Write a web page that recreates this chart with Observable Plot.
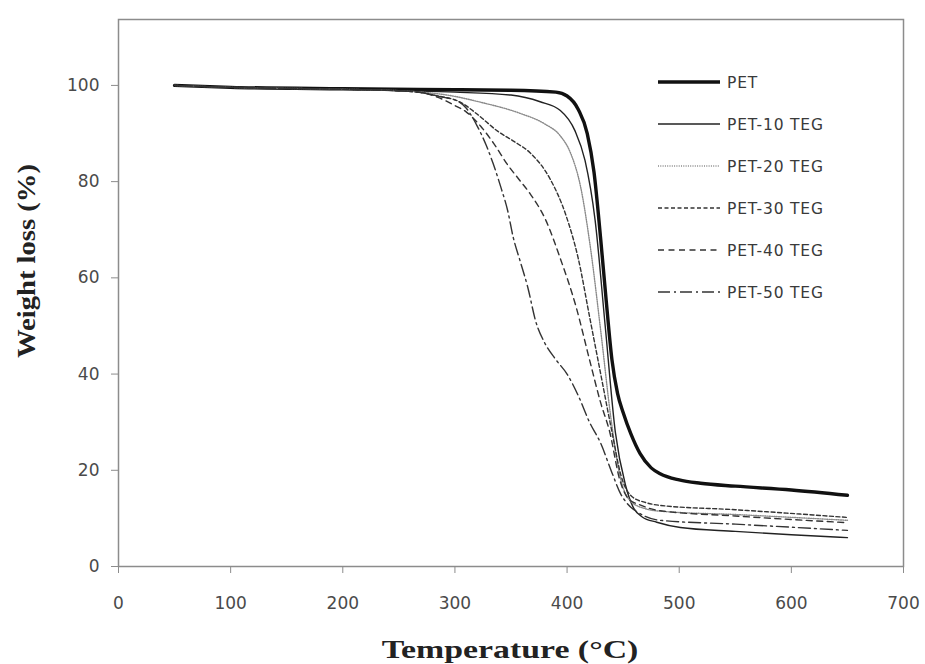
<!DOCTYPE html>
<html>
<head>
<meta charset="utf-8">
<script src="https://cdn.jsdelivr.net/npm/d3@7"></script>
<script src="https://cdn.jsdelivr.net/npm/@observablehq/plot@0.6"></script>
<style>
  html, body { margin: 0; padding: 0; background: #fff; }
  #wrap { position: relative; width: 925px; height: 664px; overflow: hidden; }
  .ylab { position: absolute; left: 27px; top: 261px; transform: translate(-50%, -50%) rotate(-90deg) scaleX(1.1);
          font-family: "Liberation Serif", serif; font-weight: bold; font-size: 26px; color: #222; white-space: nowrap; }
  .xlab { position: absolute; left: 510px; top: 650px; transform: translate(-50%, -50%) scaleX(1.3);
          font-family: "Liberation Serif", serif; font-weight: bold; font-size: 26px; color: #222; white-space: nowrap; }
  #legend { position: absolute; left: 0; top: 0; }
</style>
</head>
<body>
<div id="wrap"></div>
<script>
// ---- data ----
const seriesNames = ["PET", "PET-10 TEG", "PET-20 TEG", "PET-30 TEG", "PET-40 TEG", "PET-50 TEG"];

const petT = [50,100,200,300,350,390,400,410,418,424,430,435,440,445,450,457,465,475,483,500,519,550,600,650];
const petW = [100,99.6,99.3,99.1,99,98.6,97.8,95,90,82,68,55,43,36,32,27.5,23.5,20.5,19.3,18,17.3,16.7,15.9,14.8];

const pet10T = [50,100,200,250,300,350,376,394,407,416,425,434,443,452,459,467,480,501,550,600,650];
const pet10W = [100,99.6,99.2,98.9,98.6,98,96.6,94.8,90.6,84.4,72,50,28,17,12.3,10.3,9.2,8.1,7.3,6.6,6.0];

const pet20T = [50,100,200,250,270,293,323,358,380,394,403,412,421,430,439,447,457,470,483,550,650];
const pet20W = [100,99.6,99.2,98.9,98.6,98,96.5,94.2,92,89.5,86,79,66,49,31,19,13.5,12,11.5,10.8,9.6];

const pet30T = [50,100,200,250,270,285,305,320,338,353,367,385,399,410,420,430,440,448,458,470,483,550,650];
const pet30W = [100,99.6,99.2,98.9,98.5,97.8,96.5,94,90.5,88.3,86,80.5,73,64,52,40,28,19,14.5,13.3,12.7,11.8,10.2];

const pet40T = [50,100,200,250,270,285,300,310,323,335,347,357,367,381,394,408,420,430,438,447,455,465,483,550,650];
const pet40W = [100,99.6,99.2,98.9,98.5,97.5,95.8,94.5,91.5,87.8,83.5,80.5,77.5,72,64,54,43,34,28,18,14,12.8,11.6,10.5,9.1];

const pet50T = [50,100,200,250,270,290,300,310,320,328,334,341,347,352,358,365,372,380,390,400,410,420,430,440,448,454,465,483,550,650];
const pet50W = [100,99.6,99.2,98.9,98.5,97.5,97,95.3,91.5,87.5,83.8,78.8,74,68.4,63.6,58,51,46.5,43,40,35.5,30,25.6,19.5,15,13,11,9.6,8.8,7.5];

const xTicks = [0,100,200,300,400,500,600,700];
const yTicks = [0,20,40,60,80,100];

// ---- styles per series ----
const styles = [
  {stroke: "#111", strokeWidth: 3.4, dash: null},
  {stroke: "#222", strokeWidth: 1.4, dash: null},
  {stroke: "#8a8a8a", strokeWidth: 1.4, dash: "1,1.3"},
  {stroke: "#333", strokeWidth: 1.4, dash: "4,2.5"},
  {stroke: "#333", strokeWidth: 1.4, dash: "6,4.5"},
  {stroke: "#333", strokeWidth: 1.4, dash: "12,4,2,4"}
];

const allT = [petT, pet10T, pet20T, pet30T, pet40T, pet50T];
const allW = [petW, pet10W, pet20W, pet30W, pet40W, pet50W];
const tables = allT.map((ts, i) => ts.map((t, j) => ({T: t, W: allW[i][j], s: seriesNames[i]})));

const chart = Plot.plot({
  width: 925,
  height: 664,
  marginLeft: 118,
  marginRight: 22,
  marginTop: 19,
  marginBottom: 98,
  style: {fontFamily: "DejaVu Sans", fontSize: "17px", background: "transparent", overflow: "visible"},
  x: {domain: [0, 700], label: null},
  y: {domain: [0, 113.7], label: null},
  marks: [
    Plot.frame({stroke: "#8c8c8c", strokeWidth: 1.5}),
    Plot.axisX({ticks: xTicks, tickSize: 7, tickPadding: 23, stroke: "#8c8c8c", fill: "#4a4a4a", label: null, tickFormat: d => String(d)}),
    Plot.axisY({ticks: yTicks, tickSize: 7, tickPadding: 12, stroke: "#8c8c8c", fill: "#4a4a4a", label: null, tickFormat: d => String(d)}),
    ...tables.map((tb, i) => Plot.line(tb, {
      x: "T", y: "W",
      stroke: styles[i].stroke,
      strokeWidth: styles[i].strokeWidth,
      strokeDasharray: styles[i].dash,
      curve: "monotone-x"
    }))
  ]
});

const wrap = document.getElementById("wrap");
wrap.appendChild(chart);

// axis titles
const yl = document.createElement("div");
yl.className = "ylab";
yl.textContent = "Weight loss (%)";
wrap.appendChild(yl);
const xl = document.createElement("div");
xl.className = "xlab";
xl.textContent = "Temperature (°C)";
wrap.appendChild(xl);

// legend
const rowsY = [82, 124, 166, 208, 250, 292];
const ns = "http://www.w3.org/2000/svg";
const lg = document.createElementNS(ns, "svg");
lg.setAttribute("id", "legend");
lg.setAttribute("width", 925);
lg.setAttribute("height", 664);
seriesNames.forEach((name, i) => {
  const ln = document.createElementNS(ns, "line");
  ln.setAttribute("x1", 658); ln.setAttribute("x2", 720);
  ln.setAttribute("y1", rowsY[i]); ln.setAttribute("y2", rowsY[i]);
  ln.setAttribute("stroke", styles[i].stroke);
  ln.setAttribute("stroke-width", styles[i].strokeWidth);
  if (styles[i].dash) ln.setAttribute("stroke-dasharray", styles[i].dash);
  lg.appendChild(ln);
  const tx = document.createElementNS(ns, "text");
  tx.setAttribute("x", 727);
  tx.setAttribute("y", rowsY[i]);
  tx.setAttribute("dy", "0.36em");
  tx.setAttribute("font-family", "DejaVu Sans");
  tx.setAttribute("font-size", 15.5);
  tx.setAttribute("letter-spacing", 0.8);
  tx.setAttribute("fill", "#3a3a3a");
  tx.textContent = name;
  lg.appendChild(tx);
});
wrap.appendChild(lg);
</script>
</body>
</html>
